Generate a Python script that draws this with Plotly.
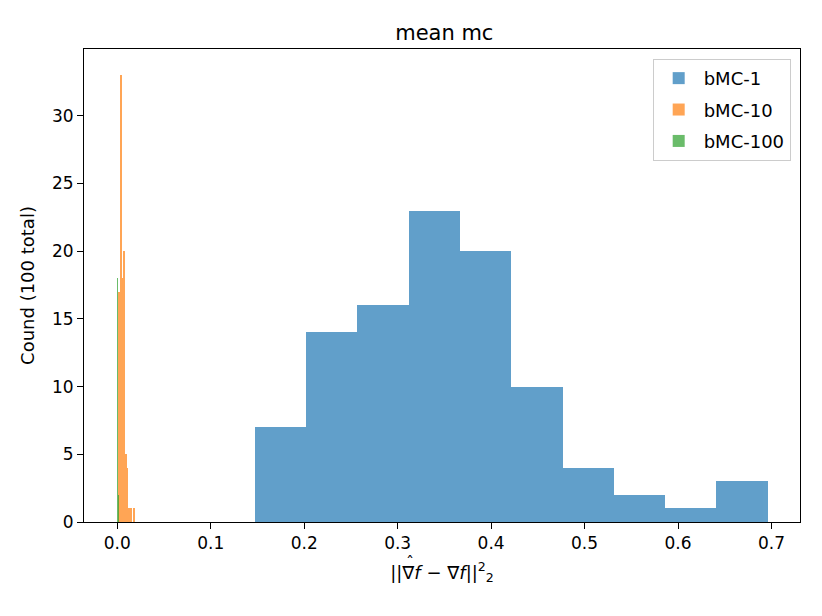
import plotly.graph_objects as go

# histogram bins (left edges) and counts
edges_1 = [0.147, 0.2019, 0.2568, 0.3117, 0.3666, 0.4215, 0.4764, 0.5313, 0.5862, 0.6411]
counts_1 = [7, 14, 16, 23, 20, 10, 4, 2, 1, 3]
width_1 = 0.0549

edges_10 = [0.0018, 0.0035, 0.0052, 0.0069, 0.0086, 0.0103, 0.012, 0.0137, 0.0154, 0.0171]
counts_10 = [17, 33, 18, 20, 5, 4, 1, 1, 0, 1]
width_10 = 0.0017

edges_100 = [0.0001, 0.00017, 0.00024, 0.00031, 0.00038, 0.00045, 0.00052, 0.00059, 0.00066, 0.00073]
counts_100 = [3, 6, 12, 16, 18, 17, 13, 8, 5, 2]
width_100 = 0.00007

names = ['bMC-1', 'bMC-10', 'bMC-100']
colors = ['#1f77b4', '#ff7f0e', '#2ca02c']

fig = go.Figure()
for name, edges, counts, w, c in zip(names,
                                     [edges_1, edges_10, edges_100],
                                     [counts_1, counts_10, counts_100],
                                     [width_1, width_10, width_100],
                                     colors):
    fig.add_trace(go.Bar(x=edges, y=counts, width=w, offset=0, name=name, legendgroup=name,
                         marker=dict(color=c, line=dict(width=0)), opacity=0.7))

axis_style = dict(showline=True, linecolor='black', linewidth=1.1, mirror=True,
                  ticks='outside', ticklen=6, tickwidth=1.1, tickcolor='black',
                  showgrid=False, zeroline=False, automargin=False,
                  tickfont=dict(size=17, color='black'))

# page body has an 8px margin, so the figure is a bit smaller than the window
fig.update_layout(
    width=814, height=608,
    barmode='overlay', bargap=0,
    plot_bgcolor='white', paper_bgcolor='white',
    font=dict(family='DejaVu Sans', color='black'),
    margin=dict(l=76, r=22, t=41, b=94),
    title=dict(text='mean mc', x=0.536, xanchor='center', y=0.959, yanchor='middle',
               font=dict(size=21)),
    xaxis=dict(range=[-0.0356, 0.7305], dtick=0.1, tickformat='.1f',
               title=dict(text='||\u2207<i>f</i> \u2212 \u2207<i>f</i>||<sup>2</sup><sub>2</sub>',
                          font=dict(size=18), standoff=13),
               **axis_style),
    yaxis=dict(range=[0, 34.93], dtick=5,
               title=dict(text='Cound (100 total)', font=dict(size=18), standoff=12),
               **axis_style),
    legend=dict(x=0.987, y=0.979, xanchor='right', yanchor='top',
                bgcolor='rgba(255,255,255,0.8)', bordercolor='#cccccc', borderwidth=1,
                font=dict(size=18), itemwidth=40, tracegroupgap=5),
)

# the hat over the first nabla
fig.add_annotation(text='\u02c6', xref='paper', yref='paper', x=0.5, y=0,
                   xanchor='center', yanchor='middle', xshift=-32, yshift=-40,
                   showarrow=False, font=dict(size=16))

fig.write_html("out.html")
